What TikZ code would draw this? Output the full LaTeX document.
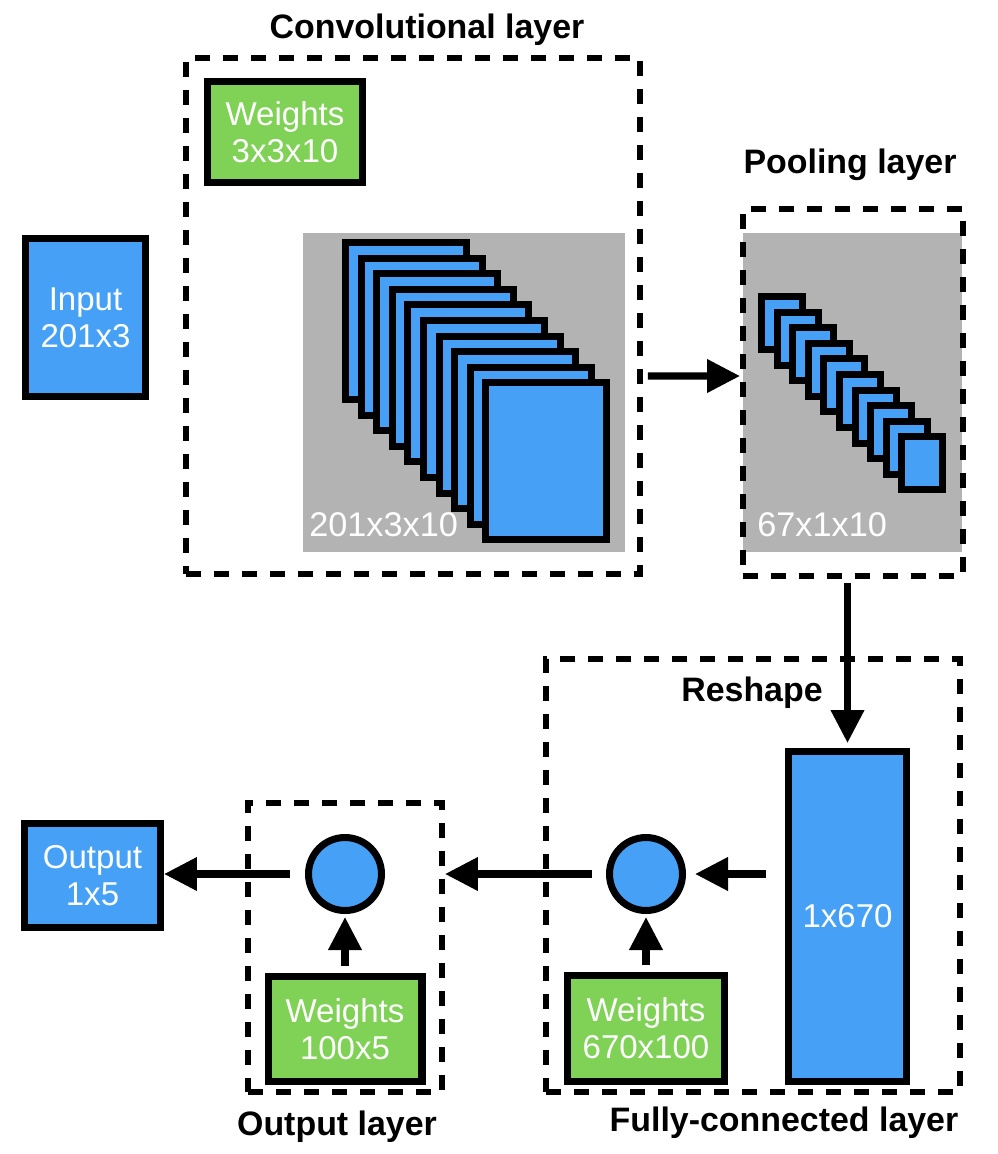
\documentclass[tikz,border=0pt]{standalone}
\usepackage{fontspec}
\setmainfont{Liberation Sans}
\usepackage{tikz}
\usetikzlibrary{arrows.meta,positioning}
\usepackage{xcolor}
\definecolor{nnblue}{RGB}{70,161,246}
\definecolor{nngreen}{RGB}{127,210,85}
\definecolor{nngray}{RGB}{179,179,179}

\begin{document}
\begin{tikzpicture}[
    x=0.02cm, y=-0.02cm,
    blk/.style={rectangle, draw, line width=4pt, fill=nnblue, text=white, align=center, inner sep=0pt, font=\fontsize{18.8}{21}\selectfont},
    wts/.style={blk, fill=nngreen},
    fmap/.style={rectangle, draw, line width=4pt, fill=nnblue, inner sep=0pt},
    unit/.style={circle, draw, line width=4pt, fill=nnblue, minimum size=1.46cm, inner sep=0pt},
    lyr/.style={rectangle, draw, line width=3.4pt, dash pattern=on 0.3cm off 0.26cm, inner sep=0pt},
    panel/.style={rectangle, fill=nngray, inner sep=0pt, minimum height=6.38cm},
    ttl/.style={font=\bfseries\fontsize{19.3}{22}\selectfont},
    dimlbl/.style={text=white, anchor=west, inner sep=0pt, font=\fontsize{19.5}{22}\selectfont},
    arr/.style={line width=4pt, -{Triangle[length=0.66cm,width=0.64cm]}}
]
    \useasboundingbox (0,0) rectangle (998,1154);

    \node[panel, minimum width=6.44cm] (cgray) at (464,392.5) {};
    \node[panel, minimum width=4.38cm] (pgray) at (852.5,392.5) {};

    \node[lyr, minimum width=9.08cm, minimum height=10.32cm] (conv) at (413,316) {};
    \node[lyr, minimum width=4.40cm, minimum height=7.34cm] (pool) at (853,392.5) {};
    \node[lyr, minimum width=8.28cm, minimum height=8.66cm] (fc) at (753,875.5) {};
    \node[lyr, minimum width=3.88cm, minimum height=5.78cm] (outl) at (345,947.5) {};

    \node[ttl] (convt) at (427,30) {Convolutional layer};
    \node[ttl] (poolt) at (850,165) {Pooling layer};
    \node[ttl] (resh) at (752,693) {Reshape};
    \node[ttl] (fct) at (784,1123) {Fully-connected layer};
    \node[ttl] (outt) at (337,1127) {Output layer};

    \node[blk, minimum width=2.40cm, minimum height=3.16cm] (input) at (85.5,317.5) {Input\\201x3};
    \node[wts, minimum width=3.10cm, minimum height=2.02cm] (wconv) at (285,132) {Weights\\3x3x10};

    % feature maps, back to front
    \foreach \i in {0,...,9}
        \node[fmap, minimum width=2.42cm, minimum height=3.14cm] (cf\i) at ({406+15.6*\i},{321+15.6*\i}) {};
    \foreach \i in {0,...,9}
        \node[fmap, minimum width=0.82cm, minimum height=1.06cm] (pf\i) at ({782+15.6*\i},{323+15.6*\i}) {};
    \node[dimlbl] (cdim) at (309,525) {201x3x10};
    \node[dimlbl] (pdim) at (757,525) {67x1x10};

    \node[blk, minimum width=2.36cm, minimum height=6.60cm] (flat) at (847.5,916.5) {1x670};
    \node[unit] (nfc) at (646,874) {};
    \node[wts, minimum width=3.14cm, minimum height=2.12cm] (wfc) at (646,1028.5) {Weights\\670x100};
    \node[unit] (nout) at (345,874) {};
    \node[wts, minimum width=3.08cm, minimum height=2.10cm] (wout) at (345,1029) {Weights\\100x5};
    \node[blk, minimum width=2.72cm, minimum height=2.08cm] (output) at (92.5,875.5) {Output\\1x5};

    \draw[arr, shorten <=0.1cm] ([yshift=-1.2cm]conv.east) -- ([yshift=0.33cm]pool.west);
    \draw[arr, shorten <=0.08cm, shorten >=0.1cm] (pool.south -| flat.north) -- (flat.north);
    \draw[arr, shorten <=0.38cm, shorten >=0.18cm] (flat.west |- nfc.east) -- (nfc.east);
    \draw[arr, shorten <=0.14cm, shorten >=0.06cm] (wfc.north) -- (nfc.south);
    \draw[arr, shorten <=0.28cm] (nfc.west) -- (outl.east |- nfc.west);
    \draw[arr, shorten <=0.14cm, shorten >=0.06cm] (wout.north) -- (nout.south);
    \draw[arr, shorten <=0.3cm] (nout.west) -- (output.east |- nout.west);
\end{tikzpicture}
\end{document}
